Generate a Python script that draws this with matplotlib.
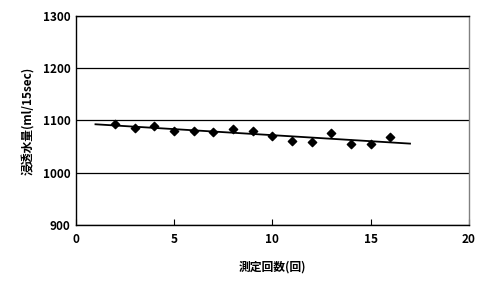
import numpy as np
import matplotlib.pyplot as plt

plt.rcParams['font.family'] = ['Noto Sans CJK JP', 'DejaVu Sans']
plt.rcParams['font.weight'] = 'bold'

count = [2, 3, 4, 5, 6, 7, 8, 9, 10, 11, 12, 13, 14, 15, 16]
water = [1093, 1086, 1089, 1079, 1080, 1078, 1084, 1080, 1070, 1061, 1059, 1076, 1055, 1055, 1069]
x_ticks = [0, 5, 10, 15, 20]
y_ticks = [900, 1000, 1100, 1200, 1300]

fig = plt.figure(figsize=(4.86, 2.9), dpi=100)
ax = fig.add_axes([0.156, 0.224, 0.809, 0.721])

# linear trend, drawn from 1 to 17 like the excel trendline
slope, icpt = np.polyfit(count, water, 1)
tx = np.array([1, 17])
ax.plot(tx, slope * tx + icpt, color="black", lw=1.3, zorder=3)
ax.scatter(count, water, marker="D", s=18, color="black", zorder=4)

ax.set_xlim(0, 20)
ax.set_ylim(900, 1300)
ax.set_xticks(x_ticks)
ax.set_yticks(y_ticks)
ax.yaxis.grid(True, color="black", lw=0.9)
ax.set_axisbelow(True)
ax.tick_params(axis="x", direction="in", length=4, labelsize=8.5, pad=6)
ax.tick_params(axis="y", length=0, labelsize=8.5, pad=4)
for s in ax.spines.values():
    s.set_linewidth(1)
ax.spines["right"].set_color("gray")

ax.set_xlabel("測定回数(回)", fontsize=8.5, fontweight="bold", labelpad=10)
ax.set_ylabel("浸透水量(ml/15sec)", fontsize=8.5, fontweight="bold", labelpad=6)

plt.savefig("out.png", dpi=100)
